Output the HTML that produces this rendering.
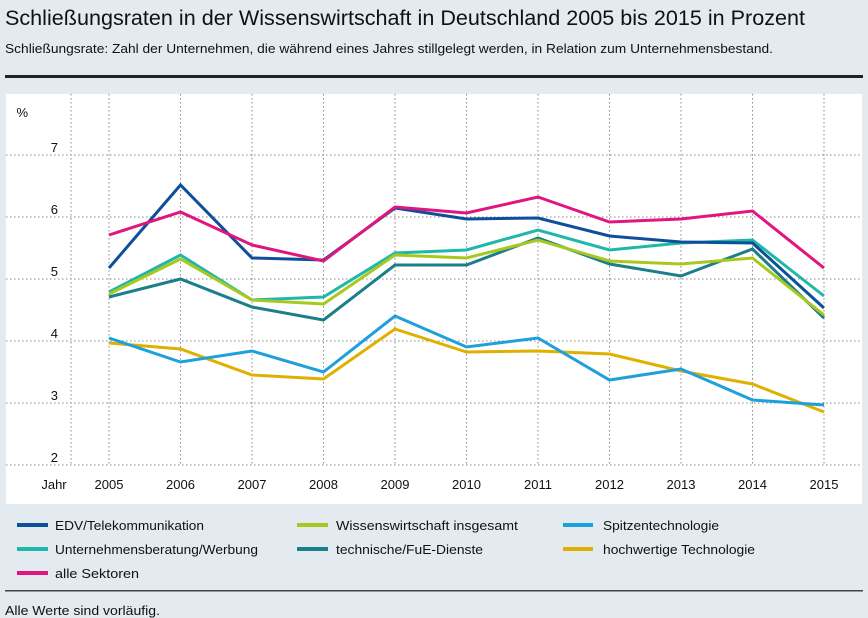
<!DOCTYPE html>
<html><head><meta charset="utf-8"><style>
body{margin:0;width:868px;height:618px;background:#e3eaf0;overflow:hidden}
svg{display:block;font-family:"Liberation Sans",sans-serif}
</style></head><body>
<svg width="868" height="618" viewBox="0 0 868 618">
<rect width="868" height="618" fill="#e3eaf0"/>
<text x="5" y="25" font-size="21" fill="#111" textLength="800" lengthAdjust="spacingAndGlyphs">Schließungsraten in der Wissenswirtschaft in Deutschland 2005 bis 2015 in Prozent</text>
<text x="5" y="53" font-size="13" fill="#111" textLength="768" lengthAdjust="spacingAndGlyphs">Schließungsrate: Zahl der Unternehmen, die während eines Jahres stillgelegt werden, in Relation zum Unternehmensbestand.</text>
<rect x="5" y="75" width="858" height="3" fill="#222"/>
<rect x="6" y="94" width="856" height="410" fill="#fff"/>
<g stroke="#888" stroke-width="1" stroke-dasharray="1.5,2.5">
<line x1="6" x2="862" y1="155" y2="155"/><line x1="6" x2="862" y1="217" y2="217"/><line x1="6" x2="862" y1="279" y2="279"/><line x1="6" x2="862" y1="341" y2="341"/><line x1="6" x2="862" y1="403" y2="403"/><line x1="6" x2="862" y1="465" y2="465"/>
<line x1="71" x2="71" y1="94" y2="465"/>
<line x1="109" x2="109" y1="94" y2="465"/><line x1="180.5" x2="180.5" y1="94" y2="465"/><line x1="252" x2="252" y1="94" y2="465"/><line x1="323.5" x2="323.5" y1="94" y2="465"/><line x1="395" x2="395" y1="94" y2="465"/><line x1="466.5" x2="466.5" y1="94" y2="465"/><line x1="538" x2="538" y1="94" y2="465"/><line x1="609.5" x2="609.5" y1="94" y2="465"/><line x1="681" x2="681" y1="94" y2="465"/><line x1="752.5" x2="752.5" y1="94" y2="465"/><line x1="824" x2="824" y1="94" y2="465"/>
</g>
<g font-size="13" fill="#111" text-anchor="end">
<text x="28" y="117">%</text>
<text x="58" y="152">7</text><text x="58" y="214">6</text><text x="58" y="276">5</text><text x="58" y="338">4</text><text x="58" y="400">3</text><text x="58" y="462">2</text>
</g>
<g font-size="13" fill="#111" text-anchor="middle">
<text x="54" y="489">Jahr</text>
<text x="109" y="489">2005</text><text x="180.5" y="489">2006</text><text x="252" y="489">2007</text><text x="323.5" y="489">2008</text><text x="395" y="489">2009</text><text x="466.5" y="489">2010</text><text x="538" y="489">2011</text><text x="609.5" y="489">2012</text><text x="681" y="489">2013</text><text x="752.5" y="489">2014</text><text x="824" y="489">2015</text>
</g>
<g fill="none" stroke-width="3" stroke-linejoin="miter">
<polyline stroke="#e0b000" points="109,343 180.5,349 252,375 323.5,379 395,329 466.5,352 538,351 609.5,354 681,371 752.5,384 824,412"/>
<polyline stroke="#1ea0dc" points="109,338 180.5,362 252,351 323.5,372 395,316 466.5,347 538,338 609.5,380 681,369 752.5,400 824,405"/>
<polyline stroke="#1a7f8a" points="109,297 180.5,279 252,307 323.5,320 395,265 466.5,265 538,238 609.5,264 681,276 752.5,249 824,318"/>
<polyline stroke="#1fb8a8" points="109,292 180.5,255 252,300 323.5,297 395,253 466.5,250 538,230 609.5,250 681,243 752.5,240 824,296"/>
<polyline stroke="#a8c81e" points="109,294 180.5,259 252,300 323.5,304 395,255 466.5,258 538,240 609.5,261 681,264 752.5,258 824,315"/>
<polyline stroke="#0e4f9a" points="109,268 180.5,185 252,258 323.5,260 395,208 466.5,219 538,218 609.5,236 681,242 752.5,243 824,308"/>
<polyline stroke="#e0157f" points="109,235 180.5,212 252,245 323.5,261 395,207 466.5,213 538,197 609.5,222 681,219 752.5,211 824,268"/>
</g>
<g stroke-width="4">
<line x1="17" x2="48" y1="525" y2="525" stroke="#0e4f9a"/>
<line x1="17" x2="48" y1="549" y2="549" stroke="#1fb8a8"/>
<line x1="17" x2="48" y1="573" y2="573" stroke="#e0157f"/>
<line x1="297" x2="328" y1="525" y2="525" stroke="#a8c81e"/>
<line x1="297" x2="328" y1="549" y2="549" stroke="#1a7f8a"/>
<line x1="563" x2="593" y1="525" y2="525" stroke="#1ea0dc"/>
<line x1="563" x2="593" y1="549" y2="549" stroke="#e0b000"/>
</g>
<g font-size="13" fill="#111" lengthAdjust="spacingAndGlyphs">
<text x="55" y="530" textLength="149" lengthAdjust="spacingAndGlyphs">EDV/Telekommunikation</text>
<text x="55" y="554" textLength="203" lengthAdjust="spacingAndGlyphs">Unternehmensberatung/Werbung</text>
<text x="55" y="578" textLength="84" lengthAdjust="spacingAndGlyphs">alle Sektoren</text>
<text x="336" y="530" textLength="182" lengthAdjust="spacingAndGlyphs">Wissenswirtschaft insgesamt</text>
<text x="336" y="554" textLength="147" lengthAdjust="spacingAndGlyphs">technische/FuE-Dienste</text>
<text x="603" y="530" textLength="116" lengthAdjust="spacingAndGlyphs">Spitzentechnologie</text>
<text x="603" y="554" textLength="152" lengthAdjust="spacingAndGlyphs">hochwertige Technologie</text>
</g>
<rect x="5" y="590" width="858" height="1.5" fill="#444"/>
<text x="5" y="615" font-size="13" fill="#111" textLength="155" lengthAdjust="spacingAndGlyphs">Alle Werte sind vorläufig.</text>
</svg>
</body></html>
